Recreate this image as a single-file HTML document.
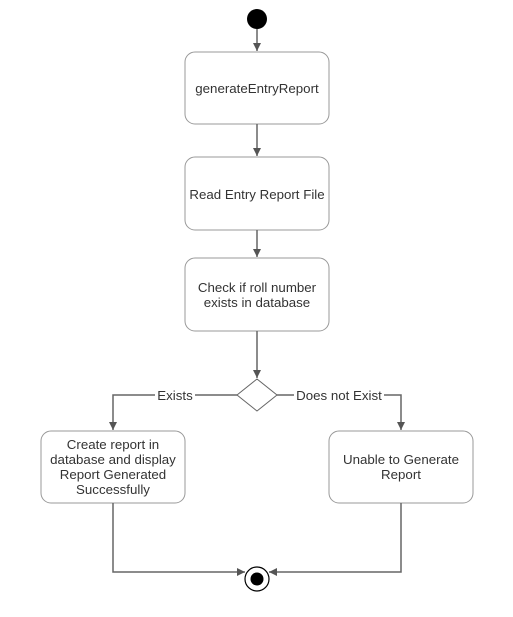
<!DOCTYPE html>
<html><head><meta charset="utf-8"><style>html,body{margin:0;padding:0;background:#fff;}svg{display:block}</style></head>
<body>
<svg width="513" height="617" viewBox="0 0 513 617" xmlns="http://www.w3.org/2000/svg" font-family="Liberation Sans, Arial, sans-serif" font-size="13.3" fill="#333">
<defs><marker id="a" markerWidth="10" markerHeight="10" refX="9" refY="5" orient="auto" markerUnits="userSpaceOnUse"><path d="M1,1 L9,5 L1,9 Z" fill="#555"/></marker></defs>
<g stroke="#888" stroke-width="1.5" fill="none">
<circle cx="257" cy="19" r="10" fill="#000" stroke="none"/>
<line x1="257" y1="29" x2="257" y2="51" stroke="#666" marker-end="url(#a)"/>
<rect x="185" y="52" width="144" height="72" rx="10" fill="#fff" stroke="#999" stroke-width="1"/>
<line x1="257" y1="124" x2="257" y2="156" stroke="#666" marker-end="url(#a)"/>
<rect x="185" y="157" width="144" height="73" rx="10" fill="#fff" stroke="#999" stroke-width="1"/>
<line x1="257" y1="230" x2="257" y2="257" stroke="#666" marker-end="url(#a)"/>
<rect x="185" y="258" width="144" height="73" rx="10" fill="#fff" stroke="#999" stroke-width="1"/>
<line x1="257" y1="331" x2="257" y2="378" stroke="#666" marker-end="url(#a)"/>
<polygon points="257,379 277,395 257,411 237,395" fill="#fff" stroke="#666" stroke-width="1"/>
<polyline points="237,395 113,395 113,430" stroke="#666" marker-end="url(#a)"/>
<polyline points="277,395 401,395 401,430" stroke="#666" marker-end="url(#a)"/>
<rect x="41" y="431" width="144" height="72" rx="10" fill="#fff" stroke="#999" stroke-width="1"/>
<rect x="329" y="431" width="144" height="72" rx="10" fill="#fff" stroke="#999" stroke-width="1"/>
<polyline points="113,503 113,572 245,572" stroke="#666" marker-end="url(#a)"/>
<polyline points="401,503 401,572 269,572" stroke="#666" marker-end="url(#a)"/>
<circle cx="257" cy="579" r="12" fill="#fff" stroke="#000" stroke-width="1.2"/>
<circle cx="257" cy="579" r="6.5" fill="#000" stroke="none"/>
</g>
<g text-anchor="middle">
<text x="257" y="93">generateEntryReport</text>
<text x="257" y="199">Read Entry Report File</text>
<text x="257" y="292">Check if roll number</text>
<text x="257" y="307">exists in database</text>
<text x="113" y="449">Create report in</text>
<text x="113" y="464">database and display</text>
<text x="113" y="479">Report Generated</text>
<text x="113" y="494">Successfully</text>
<text x="401" y="464">Unable to Generate</text>
<text x="401" y="479">Report</text>
</g>
<rect x="155" y="388" width="40" height="14" fill="#fff"/>
<text x="175" y="400" text-anchor="middle">Exists</text>
<rect x="294" y="388" width="90" height="14" fill="#fff"/>
<text x="339" y="400" text-anchor="middle">Does not Exist</text>
</svg>
</body></html>
